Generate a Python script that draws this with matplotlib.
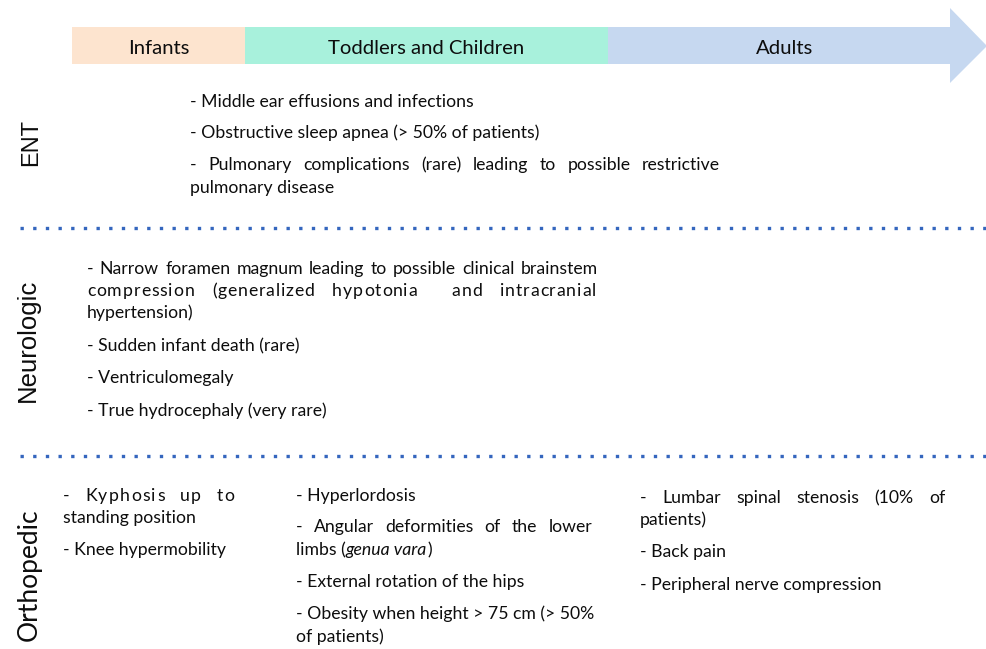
import matplotlib as mpl
import matplotlib.pyplot as plt
from matplotlib.patches import Polygon, Rectangle

plt.rcParams.update(
    {
        "font.family": ["Lato", "DejaVu Sans"],
        "text.color": "#0d0d0d",
    }
)

# content
STAGES = ["Infants", "Toddlers and Children", "Adults"]
SYSTEMS = ["ENT", "Neurologic", "Orthopedic"]

ENT_LINES = [
    "- Middle ear effusions and infections",
    "- Obstructive sleep apnea (> 50% of patients)",
    "- Pulmonary complications (rare) leading to possible restrictive",
    "pulmonary disease",
]
NEURO_LINES = [
    "- Narrow foramen magnum leading to possible clinical brainstem",
    "compression (generalized hypotonia  and intracranial",
    "hypertension)",
    "- Sudden infant death (rare)",
    "- Ventriculomegaly",
    "- True hydrocephaly (very rare)",
]
ORTHO_INFANT = [
    "- Kyphosis up to",
    "standing position",
    "- Knee hypermobility",
]
ORTHO_CHILD = [
    "- Hyperlordosis",
    "- Angular deformities of the lower",
    [("limbs (", False), ("genua vara", True), (")", False)],
    "- External rotation of the hips",
    "- Obesity when height > 75 cm (> 50%",
    "of patients)",
]
ORTHO_ADULT = [
    "- Lumbar spinal stenosis (10% of",
    "patients)",
    "- Back pain",
    "- Peripheral nerve compression",
]

# layout (pixels)
STAGE_EDGES = [72, 245, 608, 950]
STAGE_COLORS = ["#FDE4CF", "#A8F1DC", "#C6D8F0"]
BAND_TOP, BAND_BOT = 27, 64
FS = 12.7

fig = plt.figure(figsize=(9.87, 6.49), dpi=100)
ax = fig.add_axes([0, 0, 1, 1])
ax.set_xlim(0, 987)
ax.set_ylim(649, 0)
ax.axis("off")
renderer = fig.canvas.get_renderer()


def text_width(s, italic=False):
    t = ax.text(0, 0, s, fontsize=FS, style="italic" if italic else "normal")
    w = t.get_window_extent(renderer).width
    t.remove()
    return w


SPACE_W = text_width("a a") - text_width("aa")


def draw_line(item, x0, y, x1=None, spread=False):
    if isinstance(item, list):
        x = x0
        for seg, it in item:
            ax.text(x, y, seg, fontsize=FS, va="baseline",
                    style="italic" if it else "normal")
            x += text_width(seg, it)
        return
    if x1 is None:
        ax.text(x0, y, item, fontsize=FS, va="baseline")
        return
    if spread:
        # letter-spaced justification, char by char
        cw = [SPACE_W if c == " " else text_width(c) for c in item]
        scale = text_width(item) / sum(cw)
        extra = x1 - x0 - sum(cw) * scale - 2
        nsp = item.count(" ")
        ls = extra * 0.45 / (len(item) - 1)
        g = (extra - ls * (len(item) - 1)) / nsp
        x = x0
        for c, w in zip(item, cw):
            if c != " ":
                ax.text(x, y, c, fontsize=FS, va="baseline")
            x += w * scale + ls + (g if c == " " else 0)
        return
    # word-gap justification (double space -> double gap)
    words = item.split(" ")
    widths = [text_width(w) if w else 0 for w in words]
    gap = (x1 - x0 - sum(widths)) / (len(words) - 1)
    x = x0
    for w, wd in zip(words, widths):
        if w:
            ax.text(x, y, w, fontsize=FS, va="baseline")
        x += wd + gap


# timeline band
for i, (name, col) in enumerate(zip(STAGES, STAGE_COLORS)):
    l, r = STAGE_EDGES[i], STAGE_EDGES[i + 1]
    ax.add_patch(Rectangle((l, BAND_TOP), r - l, BAND_BOT - BAND_TOP,
                           facecolor=col, edgecolor="none"))
    ax.text((l + r) / 2 + (0 if i < 2 else 6), 48, name, fontsize=14.6,
            ha="center", va="center")
ax.add_patch(Polygon([(STAGE_EDGES[3], 8), (987, 46), (STAGE_EDGES[3], 83)],
                     closed=True, facecolor=STAGE_COLORS[2], edgecolor="none"))

# side labels
side_pos = [(31, 143), (28, 340), (29, 575)]
side_font = [["Liberation Sans"], ["Liberation Sans"], ["Lato"]]
side_size = [17, 18.5, 19]
for name, (xc, yc), fam, fs in zip(SYSTEMS, side_pos, side_font, side_size):
    ax.text(xc, yc, name, fontsize=fs, family=fam, rotation=90,
            ha="center", va="center")

# dotted separators
for ys in [228, 456]:
    ax.plot([20, 987], [ys, ys], color="#3566BE", lw=2.4,
            linestyle=(0, (1, 2.8)), dash_capstyle="butt")

# ENT
for item, yb, xr in zip(ENT_LINES, [107, 138, 170, 193], [None, None, 720, None]):
    draw_line(item, 190, yb, xr)

# Neurologic
for item, yb, xr, sp in zip(NEURO_LINES, [274, 296, 318, 351, 383, 416],
                            [598, 598, None, None, None, None],
                            [False, True, False, False, False, False]):
    draw_line(item, 87, yb, xr, sp)

# Orthopedic
for item, yb, xr, sp in zip(ORTHO_INFANT, [501, 523, 555], [236, None, None],
                            [True, False, False]):
    draw_line(item, 63, yb, xr, sp)
for item, yb, xr in zip(ORTHO_CHILD, [501, 532, 555, 587, 619, 642],
                        [None, 592, None, None, None, None]):
    draw_line(item, 296, yb, xr)
for item, yb, xr in zip(ORTHO_ADULT, [503, 525, 557, 590], [945, None, None, None]):
    draw_line(item, 640, yb, xr)

fig.savefig("out.png", dpi=100)
